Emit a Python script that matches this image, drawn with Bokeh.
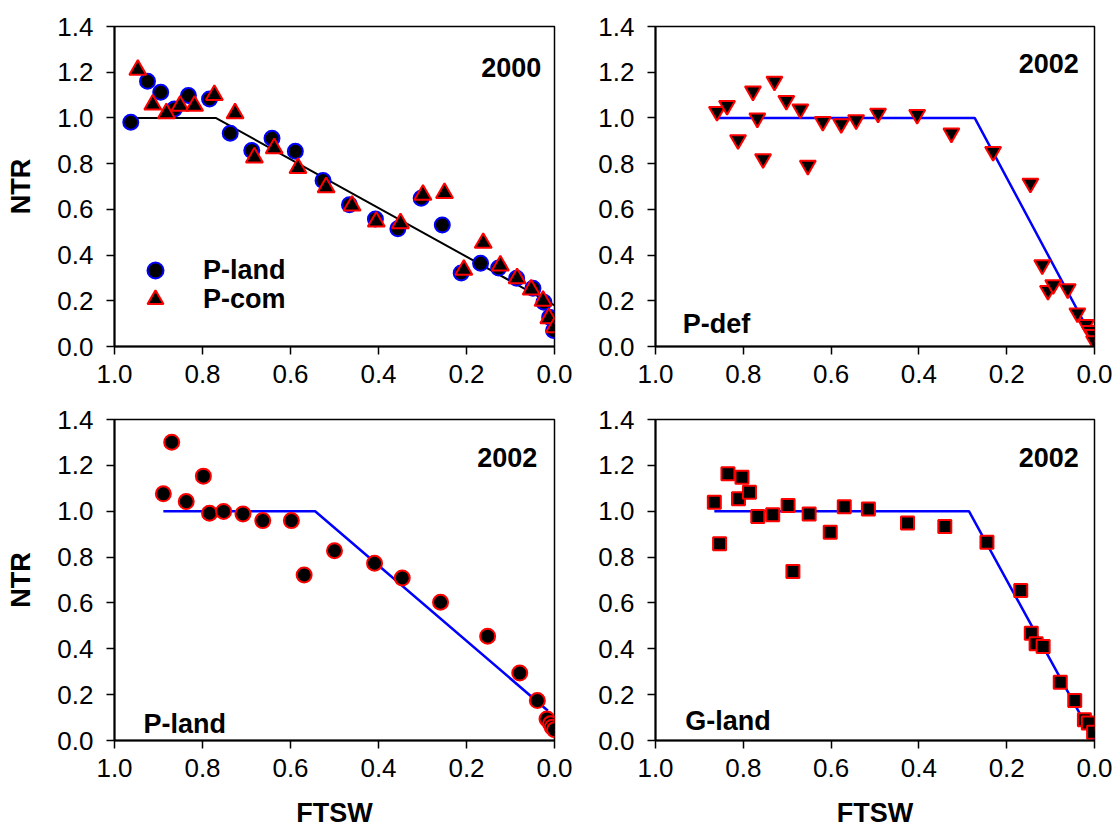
from bokeh.plotting import figure
from bokeh.models import Range1d, FixedTicker, PrintfTickFormatter, Label, Legend, LegendItem
from bokeh.layouts import column, row
from bokeh.embed import file_html
from bokeh.resources import INLINE

FONT = "Liberation Sans"

x_ticks = [0.0, 0.2, 0.4, 0.6, 0.8, 1.0]
y_ticks = [0.0, 0.2, 0.4, 0.6, 0.8, 1.0, 1.2, 1.4]

# ---- Panel 1: 2000, P-land and P-com ----
p1_land_x = [0.963, 0.925, 0.895, 0.864, 0.832, 0.784, 0.737, 0.688, 0.642, 0.589, 0.526, 0.466,
             0.407, 0.356, 0.303, 0.255, 0.212, 0.168, 0.127, 0.086, 0.049, 0.024, 0.011, 0.002]
p1_land_y = [0.981, 1.160, 1.112, 1.039, 1.098, 1.083, 0.933, 0.857, 0.911, 0.854, 0.726, 0.620,
             0.558, 0.515, 0.649, 0.532, 0.322, 0.364, 0.343, 0.299, 0.255, 0.194, 0.128, 0.070]
p1_com_x = [0.947, 0.913, 0.882, 0.851, 0.818, 0.773, 0.726, 0.682, 0.637, 0.583, 0.519, 0.460,
            0.405, 0.350, 0.299, 0.250, 0.162, 0.206, 0.123, 0.085, 0.053, 0.026, 0.013, 0.000]
p1_com_y = [1.210, 1.058, 1.020, 1.053, 1.053, 1.100, 1.020, 0.827, 0.867, 0.781, 0.696, 0.616,
            0.546, 0.539, 0.664, 0.671, 0.453, 0.335, 0.354, 0.298, 0.249, 0.200, 0.123, 0.084]
p1_fit_x = [0.963, 0.77, 0.0]
p1_fit_y = [1.0, 1.0, 0.18]

# ---- Panel 2: 2002, P-def ----
p2_x = [0.860, 0.837, 0.812, 0.778, 0.768, 0.755, 0.729, 0.702, 0.670, 0.653, 0.619, 0.577, 0.543,
        0.493, 0.404, 0.326, 0.231, 0.146, 0.119, 0.106, 0.094, 0.061, 0.039, 0.019, 0.011, 0.004, 0.001]
p2_y = [1.028, 1.054, 0.904, 1.117, 0.999, 0.821, 1.160, 1.076, 1.039, 0.792, 0.984, 0.974, 0.991,
        1.020, 1.015, 0.933, 0.853, 0.714, 0.357, 0.245, 0.270, 0.252, 0.146, 0.096, 0.070, 0.052, 0.025]
p2_fit_x = [0.86, 0.273, 0.0]
p2_fit_y = [1.0, 1.0, 0.02]

# ---- Panel 3: 2002, P-land ----
p3_x = [0.889, 0.870, 0.837, 0.798, 0.784, 0.752, 0.708, 0.663, 0.598, 0.569, 0.500, 0.409, 0.346,
        0.259, 0.152, 0.079, 0.039, 0.017, 0.009, 0.005, 0.000]
p3_y = [1.076, 1.301, 1.042, 1.153, 0.991, 0.999, 0.988, 0.959, 0.959, 0.722, 0.828, 0.773, 0.709,
        0.603, 0.455, 0.294, 0.174, 0.094, 0.073, 0.058, 0.047]
p3_fit_x = [0.889, 0.544, 0.015]
p3_fit_y = [1.0, 1.0, 0.13]

# ---- Panel 4: 2002, G-land ----
p4_x = [0.866, 0.854, 0.835, 0.811, 0.803, 0.786, 0.767, 0.733, 0.698, 0.687, 0.650, 0.602, 0.570,
        0.515, 0.426, 0.341, 0.245, 0.168, 0.144, 0.133, 0.117, 0.078, 0.045, 0.023, 0.014, 0.002]
p4_y = [1.039, 0.858, 1.163, 1.054, 1.148, 1.083, 0.977, 0.985, 1.025, 0.737, 0.988, 0.908, 1.020,
        1.010, 0.949, 0.933, 0.865, 0.654, 0.468, 0.422, 0.410, 0.254, 0.174, 0.090, 0.076, 0.036]
p4_fit_x = [0.866, 0.286, 0.0]
p4_fit_y = [1.0, 1.0, 0.0]


def make_fig(bl, br, bt, bb, fw, fh, xlabel=None, ylabel=None):
    p = figure(frame_width=fw, frame_height=fh,
               x_range=Range1d(1.0, 0.0), y_range=Range1d(0.0, 1.4),
               output_backend="svg", toolbar_location=None,
               min_border_left=bl, min_border_right=br,
               min_border_top=bt, min_border_bottom=bb)
    p.xgrid.visible = False
    p.ygrid.visible = False
    p.outline_line_color = "black"
    p.outline_line_width = 1.5
    p.background_fill_color = "white"
    p.border_fill_color = "white"
    p.xaxis.ticker = FixedTicker(ticks=x_ticks)
    p.yaxis.ticker = FixedTicker(ticks=y_ticks)
    p.xaxis.formatter = PrintfTickFormatter(format="%.1f")
    p.yaxis.formatter = PrintfTickFormatter(format="%.1f")
    for ax in (p.xaxis[0], p.yaxis[0]):
        ax.major_label_text_font = FONT
        ax.major_label_text_font_size = "26px"
        ax.major_label_text_color = "black"
        ax.axis_line_width = 2
        ax.axis_line_color = "black"
        ax.major_tick_line_width = 1.5
        ax.major_tick_line_color = "black"
        ax.major_tick_out = 8
        ax.major_tick_in = 0
        ax.minor_tick_out = 0
        ax.minor_tick_in = 0
        ax.axis_label_text_font = FONT
        ax.axis_label_text_font_size = "27px"
        ax.axis_label_text_font_style = "bold"
        ax.axis_label_text_color = "black"
    p.xaxis.major_label_standoff = 10
    p.yaxis.major_label_standoff = 13
    if xlabel:
        p.xaxis.axis_label = xlabel
        p.xaxis.axis_label_standoff = 18
    if ylabel:
        p.yaxis.axis_label = ylabel
        p.yaxis.axis_label_standoff = 18
    return p


def add_text(p, x, y, text, align):
    p.add_layout(Label(x=x, y=y, text=text, text_align=align, text_baseline="alphabetic",
                       text_font=FONT, text_font_size="27px", text_font_style="bold",
                       text_color="black"))


# Layout: left column 590 wide, right column 530 wide; top row 396, bottom row 439
p1 = make_fig(114, 36, 26, 50, 440, 320, ylabel="NTR")
p2 = make_fig(65, 26, 26, 50, 439, 320)
p3 = make_fig(114, 36, 23, 95, 440, 321, xlabel="FTSW", ylabel="NTR")
p4 = make_fig(65, 26, 23, 95, 439, 321, xlabel="FTSW")

# Panel 1
p1.line(p1_fit_x, p1_fit_y, line_color="black", line_width=2)
r_land = p1.scatter(p1_land_x, p1_land_y, marker="circle", size=15, fill_color="black",
                    line_color="blue", line_width=2)
r_com = p1.scatter(p1_com_x, p1_com_y, marker="triangle", size=17, fill_color="black",
                   line_color="red", line_width=2)
for lab, rend, vy in (("P-land", r_land, 56), ("P-com", r_com, 27)):
    lg = Legend(items=[LegendItem(label=lab, renderers=[rend])], location=(21, vy),
                glyph_width=40, glyph_height=40, label_standoff=28, padding=0, margin=0,
                spacing=0, border_line_alpha=0, background_fill_alpha=0,
                label_text_font=FONT, label_text_font_size="27px",
                label_text_font_style="bold", label_text_color="black")
    p1.add_layout(lg, "center")
add_text(p1, 0.03, 1.22, "2000", "right")

# Panel 2
p2.line(p2_fit_x, p2_fit_y, line_color="blue", line_width=2.5)
p2.scatter(p2_x, p2_y, marker="inverted_triangle", size=16, fill_color="black",
           line_color="red", line_width=2)
add_text(p2, 0.036, 1.238, "2002", "right")
add_text(p2, 0.938, 0.10, "P-def", "left")

# Panel 3
p3.line(p3_fit_x, p3_fit_y, line_color="blue", line_width=2.5)
p3.scatter(p3_x, p3_y, marker="circle", size=15, fill_color="black",
           line_color="red", line_width=2)
add_text(p3, 0.039, 1.234, "2002", "right")
add_text(p3, 0.934, 0.074, "P-land", "left")

# Panel 4
p4.line(p4_fit_x, p4_fit_y, line_color="blue", line_width=2.5)
p4.scatter(p4_x, p4_y, marker="square", size=13, fill_color="black",
           line_color="red", line_width=2)
add_text(p4, 0.036, 1.234, "2002", "right")
add_text(p4, 0.932, 0.087, "G-land", "left")

layout = column(row(p1, p2), row(p3, p4))

open("out.html", "w").write(file_html(layout, INLINE))
